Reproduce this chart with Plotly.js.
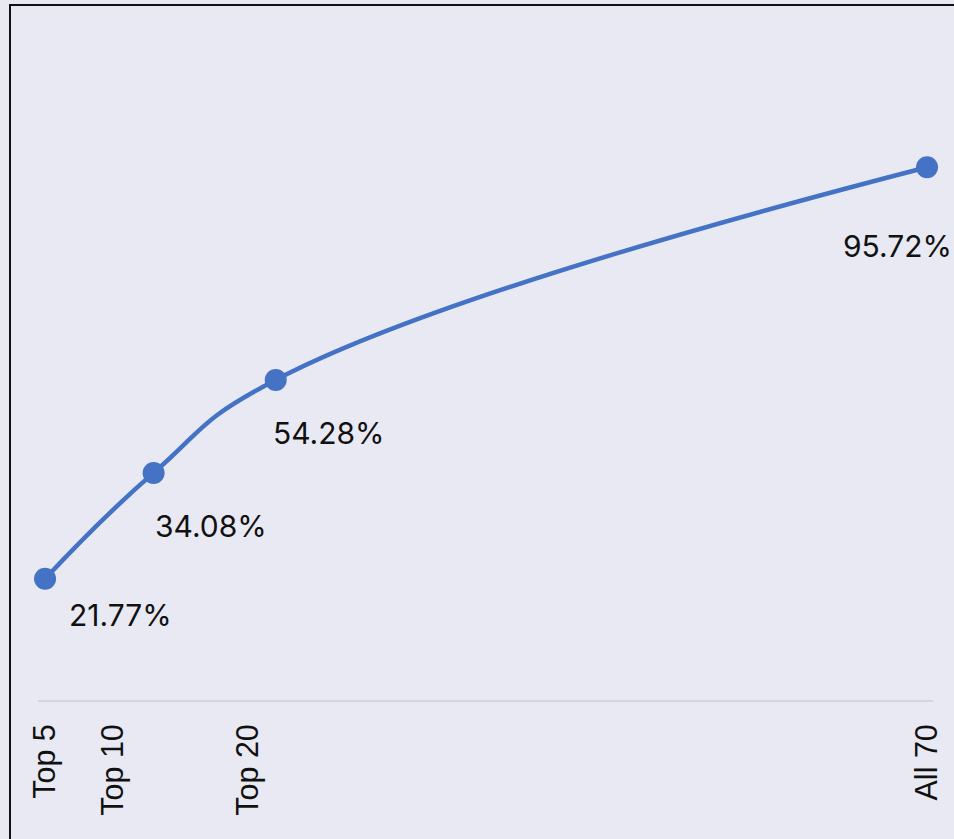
<!DOCTYPE html>
<html>
<head>
<meta charset="utf-8">
<script src="https://cdn.plot.ly/plotly-3.0.1.min.js"></script>
<style>
  html, body { margin: 0; padding: 0; background: #e9e9f3; overflow: hidden; width: 954px; height: 839px; }
  #frame { position: absolute; left: 9px; top: 4px; border-left: 2px solid #111; border-top: 2px solid #111; }
  #chart { width: 980px; height: 860px; }
</style>
</head>
<body>
<div id="frame"><div id="chart"></div></div>
<script>
// Data
const tickValues = [5, 10, 20, 70];
const tickLabels = ['Top 5', 'Top 10', 'Top 20', 'All 70'];
const pointX = [5, 13, 22, 70];
const shareValues = [21.77, 40.8, 57.5, 95.72];
const shareLabels = ['21.77%', '34.08%', '54.28%', '95.72%'];

// Label offsets (px) relative to each marker
const labelDx = [75, 57, 53, -30];
const labelDy = [-36, -53, -53, -79];

const trace = {
  x: pointX,
  y: shareValues,
  type: 'scatter',
  mode: 'lines+markers',
  line: { color: '#4472c4', width: 4.5, shape: 'spline', smoothing: 1.3 },
  marker: { color: '#4472c4', size: 22 },
  cliponaxis: false,
  hoverinfo: 'skip'
};

const annotations = shareLabels.map((t, i) => ({
  x: pointX[i], y: shareValues[i], xref: 'x', yref: 'y',
  text: t, showarrow: false,
  xanchor: 'center', yanchor: 'middle',
  xshift: labelDx[i], yshift: labelDy[i],
  font: { family: 'Inter, sans-serif', size: 30, color: '#111111' }
}));

const layout = {
  width: 980, height: 860,
  margin: { l: 27, r: 58, t: 104, b: 166 },
  paper_bgcolor: '#e9e9f3',
  plot_bgcolor: '#e9e9f3',
  showlegend: false,
  font: { family: 'Inter, sans-serif', color: '#111111' },
  xaxis: {
    range: [4.48, 70.44],
    tickmode: 'array',
    tickvals: tickValues,
    ticktext: tickLabels,
    tickangle: -90,
    tickfont: { family: 'Liberation Sans, Arial, sans-serif', size: 30.5, color: '#111111' },
    showgrid: false, zeroline: false,
    showline: true, linecolor: '#d5d5dc', linewidth: 2,
    ticks: 'outside', ticklen: 10, tickcolor: 'rgba(0,0,0,0)'
  },
  yaxis: {
    range: [0, 106],
    showgrid: false, zeroline: false, showline: false,
    showticklabels: false, ticks: ''
  },
  annotations: annotations
};

Plotly.newPlot('chart', [trace], layout, { displayModeBar: false, staticPlot: true });
</script>
</body>
</html>
